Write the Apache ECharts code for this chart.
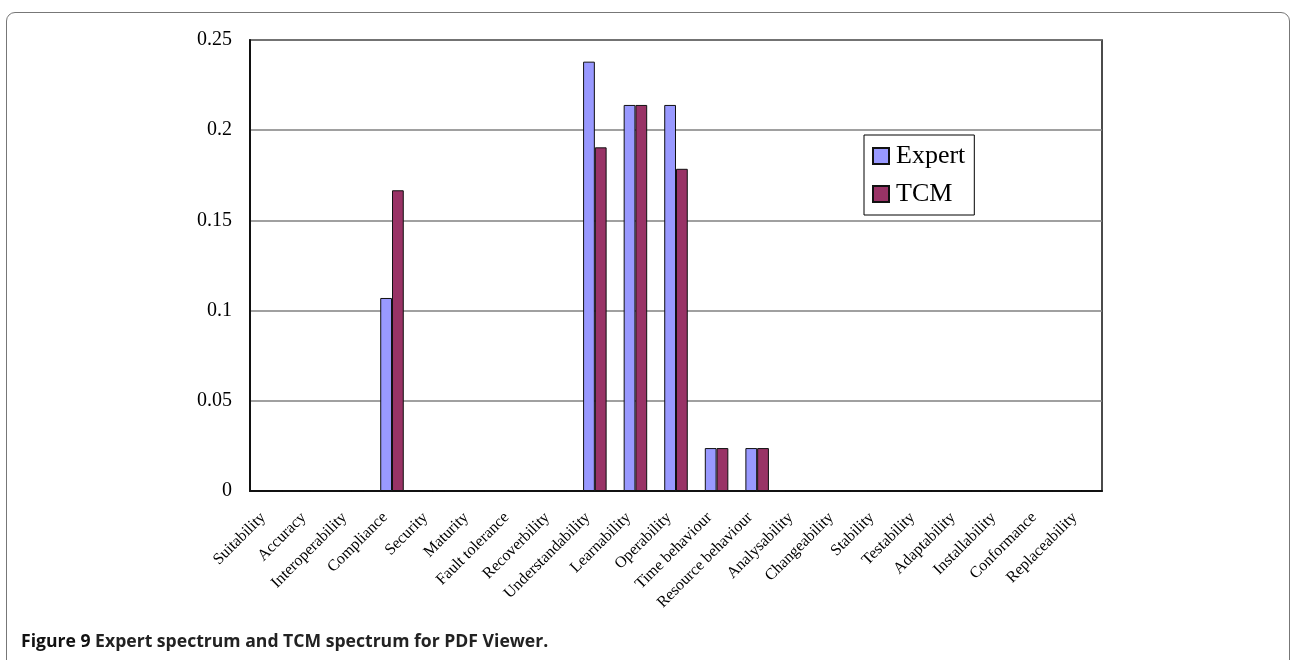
<!DOCTYPE html>
<html>
<head>
<meta charset="utf-8">
<script src="https://cdn.jsdelivr.net/npm/echarts@6/dist/echarts.min.js"></script>
<style>
html,body{margin:0;padding:0;background:#fff;}
#frame{position:absolute;left:6px;top:12px;width:1284px;height:700px;border:1.5px solid #777;border-radius:9px;box-sizing:border-box;}
#chart{position:absolute;left:0;top:0;width:1292px;height:660px;}
</style>
</head>
<body>
<div id="frame"></div>
<div id="chart"></div>
<script>
const categories = ["Suitability","Accuracy","Interoperability","Compliance","Security","Maturity","Fault tolerance","Recoverbility","Understandability","Learnability","Operability","Time behaviour","Resource behaviour","Analysability","Changeability","Stability","Testability","Adaptability","Installability","Conformance","Replaceability"];
const expertValues = [0,0,0,0.107,0,0,0,0,0.238,0.214,0.214,0.0238,0.0238,0,0,0,0,0,0,0,0];
const tcmValues = [0,0,0,0.1667,0,0,0,0,0.1905,0.214,0.1786,0.0238,0.0238,0,0,0,0,0,0,0,0];
const seriesNames = ["Expert","TCM"];
const yTicks = {min:0, max:0.25, interval:0.05};
const caption = ["Figure 9", " Expert spectrum and TCM spectrum for PDF Viewer."];

const chart = echarts.init(document.getElementById('chart'), null, {renderer:'canvas'});
const serif = "'Liberation Serif','Times New Roman',serif";
const sans = "'Open Sans','Noto Sans',sans-serif";
chart.setOption({
  animation:false,
  backgroundColor:'transparent',
  title:{
    text:'{b|'+caption[0]+'}{n|'+caption[1]+'}',
    left:16, top:628,
    textStyle:{rich:{
      b:{fontFamily:sans,fontWeight:'bold',fontSize:17.6,color:'#111'},
      n:{fontFamily:sans,fontWeight:'bold',fontSize:17.6,color:'#222'}
    }}
  },
  legend:{
    show:true, orient:'vertical', left:864, top:135,
    data:seriesNames,
    borderColor:'#000', borderWidth:1,
    padding:[8,9,8,8], itemGap:12, itemWidth:16, itemHeight:16,
    icon:'rect',
    textStyle:{fontFamily:serif,fontSize:26,color:'#000',padding:[0,0,0,2]},
    selectedMode:false
  },
  grid:{left:250, top:40, right:190, bottom:169, show:true, borderColor:'#111', borderWidth:1.5, containLabel:false},
  xAxis:{
    type:'category', data:categories,
    axisLine:{lineStyle:{color:'#111',width:2}},
    axisTick:{inside:true,length:5,lineStyle:{color:'#555',width:1.5}},
    axisLabel:{rotate:45, interval:0, fontFamily:serif, fontSize:16, color:'#000', margin:17, padding:[0,10,0,0]}
  },
  yAxis:{
    type:'value', min:yTicks.min, max:yTicks.max, interval:yTicks.interval,
    axisLine:{show:true,lineStyle:{color:'#111',width:2}},
    axisTick:{show:false},
    splitLine:{lineStyle:{color:'#808080',width:1.5}},
    axisLabel:{fontFamily:serif,fontSize:20,color:'#000',margin:18}
  },
  series:[
    {name:seriesNames[0], type:'bar', data:expertValues, barGap:'0%', barCategoryGap:'42%',
     itemStyle:{color:'#9999FF',borderColor:'#111',borderWidth:1}},
    {name:seriesNames[1], type:'bar', data:tcmValues, barGap:'0%', barCategoryGap:'42%',
     itemStyle:{color:'#993366',borderColor:'#111',borderWidth:1}}
  ]
});
</script>
</body>
</html>
